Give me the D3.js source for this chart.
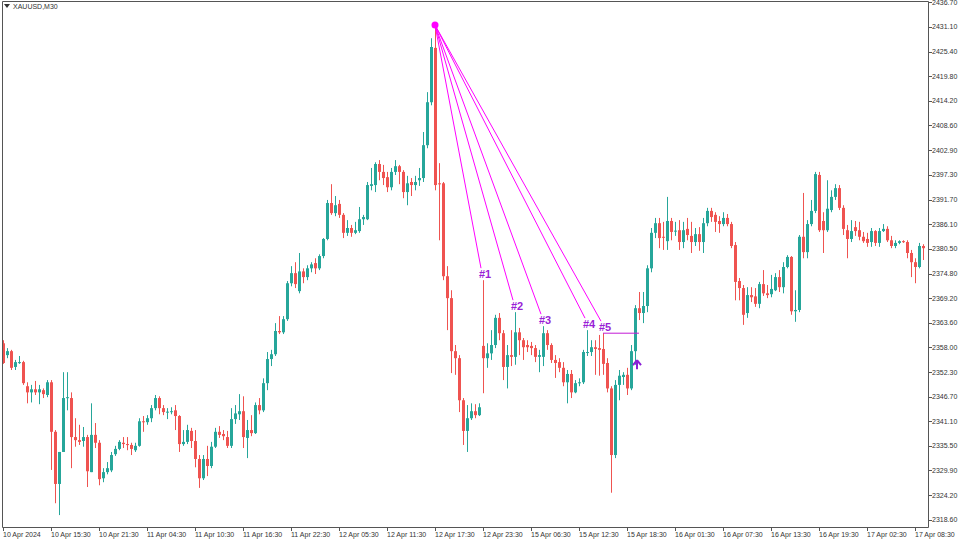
<!DOCTYPE html>
<html>
<head>
<meta charset="utf-8">
<script src="https://cdn.jsdelivr.net/npm/d3@7"></script>
<style>
  body { margin: 0; background: #fff; }
  svg text { font-family: "Liberation Sans", Arial, sans-serif; }
</style>
</head>
<body>
<div id="chart"></div>
<script>
const width = 960;
const height = 540;

// OHLC of XAUUSD M30, one entry per bar
const opens = [2358.9,2356.2,2357.1,2353.5,2354.4,2354.6,2349.1,2347.7,2348.4,2347.7,2348.2,2347.1,2350.0,2338.7,2326.8,2334.1,2346.4,2346.4,2337.5,2336.8,
  2336.6,2337.5,2329.5,2338.0,2336.2,2328.1,2329.5,2329.9,2333.6,2334.8,2336.2,2335.9,2335.7,2334.5,2335.5,2341.1,2340.9,2341.8,2344.1,2346.4,
  2344.1,2343.2,2343.2,2343.6,2342.3,2335.9,2336.4,2338.9,2336.6,2332.5,2328.1,2332.5,2330.9,2335.3,2338.7,2338.2,2337.5,2335.5,2341.6,2342.7,
  2343.4,2337.3,2339.1,2338.4,2344.8,2343.6,2349.8,2355.3,2356.4,2361.7,2361.4,2364.4,2372.6,2374.9,2370.8,2375.3,2374.0,2376.0,2377.2,2376.0,
  2378.8,2382.7,2390.9,2388.6,2390.7,2388.2,2384.1,2385.2,2384.1,2384.5,2387.2,2387.2,2394.8,2395.0,2399.8,2398.0,2396.8,2394.5,2398.0,2399.3,
  2398.0,2393.4,2395.7,2395.0,2396.1,2396.6,2404.1,2413.9,2426.3,2395.4,2395.4,2374.2,2369.2,2357.1,2355.5,2345.9,2338.9,2341.8,2343.4,2342.5,
  2358.3,2355.5,2356.6,2358.5,2364.7,2361.2,2353.5,2356.2,2355.8,2361.4,2359.6,2358.5,2358.3,2357.8,2355.8,2355.8,2361.2,2358.5,2355.1,2354.6,
  2353.3,2350.0,2351.9,2347.7,2349.8,2350.0,2356.7,2356.9,2358.0,2357.8,2357.6,2354.4,2348.6,2333.4,2349.4,2351.2,2351.7,2348.6,2357.1,2366.9,
  2365.8,2367.4,2376.0,2384.1,2386.3,2383.2,2382.2,2386.8,2384.5,2384.7,2382.0,2385.0,2383.4,2382.0,2383.8,2382.0,2386.3,2389.1,2388.2,2386.8,
  2386.1,2387.5,2386.1,2381.3,2373.1,2371.5,2365.8,2369.9,2369.6,2367.9,2372.4,2370.3,2370.1,2371.0,2374.0,2371.7,2376.3,2378.6,2366.2,2366.5,
  2383.2,2379.7,2386.1,2389.1,2397.3,2386.8,2384.7,2389.3,2392.3,2394.3,2389.8,2384.7,2382.7,2385.4,2384.7,2383.2,2382.7,2382.0,2384.5,2381.8,
  2384.5,2385.0,2382.4,2381.1,2381.8,2382.2,2382.0,2379.5,2377.4,2376.3,2381.1];
const highs = [2359.6,2357.8,2357.4,2355.1,2356.0,2354.9,2350.0,2349.4,2350.3,2349.4,2348.6,2350.5,2350.5,2339.1,2334.1,2352.3,2352.3,2347.7,2341.8,2340.3,
  2339.8,2338.0,2345.2,2340.7,2336.8,2330.4,2331.8,2334.1,2335.5,2336.8,2337.5,2337.5,2336.2,2336.2,2341.8,2342.3,2342.5,2344.8,2347.1,2346.8,
  2344.8,2344.1,2344.3,2344.8,2342.5,2339.1,2340.3,2339.6,2339.1,2333.4,2333.4,2335.5,2336.4,2339.6,2340.0,2339.1,2338.9,2344.1,2344.8,2347.3,
  2346.8,2341.4,2342.5,2345.4,2346.4,2350.9,2356.9,2357.4,2363.5,2365.1,2365.1,2373.1,2376.5,2377.4,2379.5,2376.0,2376.7,2377.4,2378.3,2379.2,
  2382.9,2391.6,2395.2,2392.5,2391.6,2388.6,2387.0,2385.9,2386.6,2390.0,2388.2,2395.7,2398.9,2400.2,2400.7,2399.6,2398.0,2398.9,2400.7,2399.6,
  2398.4,2397.1,2396.6,2397.1,2398.9,2407.1,2416.2,2428.5,2431.5,2400.0,2395.7,2376.5,2371.0,2358.5,2356.2,2346.4,2344.8,2345.2,2345.0,2345.2,
  2373.3,2358.9,2361.9,2365.4,2365.8,2361.9,2358.5,2361.9,2366.0,2362.4,2360.1,2359.6,2359.2,2358.5,2357.4,2362.8,2361.9,2358.9,2356.2,2355.5,
  2354.6,2352.8,2352.8,2350.5,2350.9,2357.4,2361.9,2359.6,2359.6,2360.8,2361.2,2355.5,2349.1,2350.5,2352.8,2352.3,2353.3,2358.5,2367.6,2370.6,
  2370.6,2376.7,2385.2,2387.5,2387.5,2386.6,2392.3,2387.5,2386.6,2387.0,2386.6,2387.5,2386.6,2385.2,2385.4,2387.5,2389.8,2389.8,2388.8,2387.9,
  2388.8,2388.4,2386.6,2382.0,2373.8,2372.2,2371.7,2371.7,2371.5,2372.9,2375.6,2372.2,2374.5,2374.9,2375.6,2377.4,2379.0,2378.8,2371.0,2383.6,
  2393.2,2387.0,2391.6,2398.0,2398.0,2388.8,2396.1,2393.8,2395.2,2395.0,2390.4,2385.9,2387.0,2386.8,2386.6,2384.3,2384.1,2385.2,2384.7,2385.2,
  2386.1,2385.6,2383.4,2382.4,2382.4,2382.4,2382.4,2380.2,2378.3,2381.8,2381.5];
const lows = [2354.2,2355.5,2352.8,2352.8,2354.2,2349.4,2345.2,2345.4,2347.1,2345.0,2346.4,2346.6,2330.0,2322.4,2319.7,2334.1,2343.6,2330.4,2335.3,2335.7,
  2335.3,2326.1,2329.5,2335.0,2326.5,2327.2,2329.0,2329.5,2333.2,2334.5,2335.0,2334.5,2333.4,2334.1,2335.3,2338.7,2340.3,2340.9,2343.6,2342.7,
  2342.5,2341.6,2342.7,2339.1,2334.1,2335.5,2335.9,2335.0,2330.6,2325.9,2327.7,2328.6,2330.4,2335.0,2337.3,2336.8,2335.0,2335.0,2340.5,2341.4,
  2335.0,2332.7,2337.7,2338.2,2342.7,2343.2,2348.2,2353.7,2356.0,2361.0,2361.0,2364.0,2371.9,2371.5,2370.3,2372.6,2373.3,2375.1,2374.7,2375.6,
  2378.3,2382.4,2388.2,2387.9,2387.5,2382.9,2383.4,2383.2,2383.8,2384.1,2385.9,2387.0,2393.8,2393.4,2396.1,2395.0,2393.4,2393.8,2397.3,2395.2,
  2392.0,2390.4,2392.5,2393.8,2394.8,2395.7,2403.4,2413.2,2393.8,2382.4,2373.3,2361.9,2352.1,2351.7,2343.2,2335.7,2334.1,2341.4,2341.8,2342.3,
  2347.5,2353.3,2355.1,2357.8,2359.6,2350.5,2348.6,2353.7,2354.0,2356.2,2355.1,2356.9,2356.2,2354.6,2352.3,2353.7,2357.4,2354.4,2351.0,2352.3,
  2349.1,2345.2,2346.4,2347.5,2349.1,2349.6,2356.0,2356.0,2351.7,2351.5,2351.7,2347.7,2324.8,2332.7,2345.9,2349.4,2347.1,2348.2,2354.0,2364.2,
  2363.5,2366.0,2375.1,2382.9,2380.6,2380.2,2380.2,2382.4,2383.4,2380.2,2380.6,2382.4,2379.5,2381.1,2380.0,2379.5,2385.6,2386.6,2384.3,2384.1,
  2385.6,2385.6,2380.6,2368.7,2368.7,2363.1,2364.7,2368.3,2367.2,2366.9,2369.7,2369.2,2369.4,2370.8,2370.6,2370.3,2376.0,2365.4,2363.8,2366.0,
  2378.3,2378.3,2385.6,2388.6,2384.3,2379.5,2384.3,2388.8,2391.6,2389.3,2383.6,2378.3,2382.0,2383.4,2382.4,2381.8,2380.9,2380.9,2381.1,2380.9,
  2384.3,2382.0,2380.6,2380.6,2381.5,2381.8,2378.3,2374.0,2372.6,2376.0,2377.9];
const closes = [2354.4,2357.1,2353.3,2354.6,2354.6,2349.8,2347.7,2348.4,2347.7,2348.4,2347.3,2350.0,2338.7,2326.8,2334.1,2346.4,2346.6,2337.5,2336.8,2336.4,
  2337.5,2329.7,2338.0,2336.2,2327.9,2329.5,2330.4,2333.4,2334.8,2336.4,2335.9,2335.7,2334.8,2335.5,2341.1,2340.9,2341.8,2344.1,2346.4,2344.1,
  2343.2,2343.3,2343.4,2342.3,2335.9,2336.4,2339.1,2336.6,2332.5,2328.1,2332.5,2330.9,2335.3,2338.7,2338.0,2337.7,2335.5,2341.6,2342.9,2343.4,
  2337.5,2339.1,2338.4,2344.8,2343.6,2349.8,2355.3,2356.4,2361.7,2361.4,2364.4,2372.6,2374.9,2372.4,2375.3,2374.0,2376.0,2376.9,2376.0,2378.8,
  2382.7,2390.9,2388.6,2390.4,2388.2,2384.1,2385.2,2384.1,2384.7,2387.2,2387.7,2395.0,2395.2,2399.8,2398.0,2396.6,2394.5,2398.0,2399.3,2398.0,
  2393.4,2395.4,2395.0,2395.7,2396.6,2404.1,2413.9,2426.5,2395.0,2395.3,2374.2,2369.2,2357.1,2355.5,2345.9,2338.9,2341.8,2343.4,2342.5,2344.3,
  2355.5,2356.6,2358.5,2364.7,2361.2,2353.5,2356.2,2355.8,2361.4,2359.6,2358.0,2358.0,2357.8,2355.8,2356.2,2361.2,2358.5,2355.1,2354.4,2353.3,
  2350.0,2351.9,2347.7,2349.8,2350.0,2356.9,2356.9,2358.0,2357.6,2357.4,2354.2,2348.6,2333.4,2349.4,2351.5,2351.7,2348.6,2357.1,2366.9,2365.8,
  2367.4,2376.0,2384.1,2386.3,2382.9,2383.0,2386.8,2384.3,2384.6,2382.0,2384.7,2383.6,2382.0,2383.8,2382.0,2386.3,2389.1,2387.7,2386.6,2386.1,
  2387.5,2386.1,2381.1,2372.9,2371.5,2365.4,2369.9,2369.4,2367.9,2372.4,2370.3,2369.9,2371.3,2374.0,2371.7,2376.3,2378.6,2366.2,2366.5,2383.2,
  2379.7,2386.1,2389.1,2397.5,2384.7,2384.7,2389.6,2392.3,2394.3,2389.8,2385.0,2382.7,2384.5,2384.5,2383.2,2382.2,2381.8,2384.5,2381.8,2384.5,
  2385.0,2382.4,2381.1,2381.8,2382.2,2382.0,2379.5,2377.4,2376.3,2381.1,2380.6];

// time axis labels every 12 bars
const timeLabels = ["10 Apr 2024","10 Apr 15:30","10 Apr 21:30","11 Apr 04:30","11 Apr 10:30","11 Apr 16:30","11 Apr 22:30",
  "12 Apr 05:30","12 Apr 11:30","12 Apr 17:30","12 Apr 23:30","15 Apr 06:30","15 Apr 12:30","15 Apr 18:30",
  "16 Apr 01:30","16 Apr 07:30","16 Apr 13:30","16 Apr 19:30","17 Apr 02:30","17 Apr 08:30"];
const priceTicks = [2436.70,2431.10,2425.40,2419.80,2414.20,2408.60,2402.90,2397.30,2391.70,2386.10,2380.50,
  2374.80,2369.20,2363.60,2358.00,2352.30,2346.70,2341.10,2335.50,2329.90,2324.20,2318.60];

// swing highs linked to the top
const anchorBar = 108;
const pivotBars = [120, 128, 135, 146, 150];
const pivotNames = ["#1", "#2", "#3", "#4", "#5"];
const levelEndBar = 159;
const arrowBar = 158;
const arrowPrice = 2353.9;

const up = "#26a69a", down = "#ef5350";
const plotR = 928, plotB = 527;

const x = d3.scaleLinear().domain([0, 230]).range([3, 923]);
const y = d3.scaleLinear().domain([2318.6, 2436.7]).range([519.9, 2.3]);

const svg = d3.select("#chart").append("svg")
  .attr("width", width).attr("height", height);

const bars = d3.range(closes.length).map(i => ({
  i, o: opens[i], h: highs[i], l: lows[i], c: closes[i]
}));

const g = svg.append("g");
g.selectAll("line.wick").data(bars).enter().append("line")
  .attr("x1", d => Math.round(x(d.i)) + 0.5).attr("x2", d => Math.round(x(d.i)) + 0.5)
  .attr("y1", d => y(d.h)).attr("y2", d => y(d.l))
  .attr("stroke", d => d.c >= d.o ? up : down).attr("stroke-width", 1);
g.selectAll("rect.body").data(bars).enter().append("rect")
  .attr("x", d => Math.round(x(d.i)) - 1)
  .attr("width", 3)
  .attr("y", d => y(Math.max(d.o, d.c)))
  .attr("height", d => Math.max(1, Math.abs(y(d.o) - y(d.c))))
  .attr("fill", d => d.c >= d.o ? up : down);

// annotation lines
const ax = x(anchorBar), ay = y(highs[anchorBar]);
pivotBars.forEach((b, k) => {
  const px = x(b), py = y(highs[b]);
  svg.append("text")
    .attr("x", px + 2).attr("y", py - 2)
    .attr("text-anchor", "middle")
    .attr("font-size", 11).attr("font-weight", "bold")
    .attr("fill", "#9a1fd6")
    .text(pivotNames[k]);
  svg.append("line")
    .attr("x1", ax).attr("y1", ay)
    .attr("x2", px - 2).attr("y2", py - 12)
    .attr("stroke", "#ff00ff").attr("stroke-width", 1);
});
svg.append("line")
  .attr("x1", x(pivotBars[4])).attr("x2", x(levelEndBar))
  .attr("y1", y(highs[pivotBars[4]])).attr("y2", y(highs[pivotBars[4]]))
  .attr("stroke", "#c21ad6").attr("stroke-width", 1);
svg.append("circle").attr("cx", ax).attr("cy", ay).attr("r", 3.5).attr("fill", "#ff00ff");

// up arrow
const arx = x(arrowBar) + 2, ary = y(arrowPrice);
svg.append("path")
  .attr("d", `M${arx},${ary - 5} L${arx - 4},${ary} M${arx},${ary - 5} L${arx + 4},${ary} M${arx},${ary - 5} L${arx},${ary + 4}`)
  .attr("stroke", "#8a1fd6").attr("stroke-width", 2).attr("fill", "none");

// frame
svg.append("path")
  .attr("d", `M2.5,${plotB + 0.5} L2.5,1.5 L${plotR + 0.5},1.5 L${plotR + 0.5},${plotB + 0.5} Z`)
  .attr("fill", "none").attr("stroke", "#555").attr("stroke-width", 1);

// price axis
const yAxis = svg.append("g");
yAxis.selectAll("line").data(priceTicks).enter().append("line")
  .attr("x1", plotR).attr("x2", plotR + 4)
  .attr("y1", d => Math.round(y(d)) + 0.5).attr("y2", d => Math.round(y(d)) + 0.5)
  .attr("stroke", "#555");
yAxis.selectAll("text").data(priceTicks).enter().append("text")
  .attr("x", plotR + 4).attr("y", d => y(d) + 2.5)
  .attr("font-size", 7).attr("fill", "#333")
  .text(d => d.toFixed(2));

// time axis
const xAxis = svg.append("g");
xAxis.selectAll("line").data(timeLabels).enter().append("line")
  .attr("x1", (d, i) => Math.round(x(i * 12)) + 0.5).attr("x2", (d, i) => Math.round(x(i * 12)) + 0.5)
  .attr("y1", plotB).attr("y2", plotB + 4)
  .attr("stroke", "#555");
xAxis.selectAll("text").data(timeLabels).enter().append("text")
  .attr("x", (d, i) => x(i * 12)).attr("y", plotB + 10)
  .attr("font-size", 7).attr("fill", "#333")
  .text(d => d);

// symbol title
svg.append("path").attr("d", "M4,4 L10,4 L7,8 Z").attr("fill", "#333");
svg.append("text").attr("x", 13).attr("y", 9)
  .attr("font-size", 7).attr("fill", "#333").text("XAUUSD,M30");
</script>
</body>
</html>
